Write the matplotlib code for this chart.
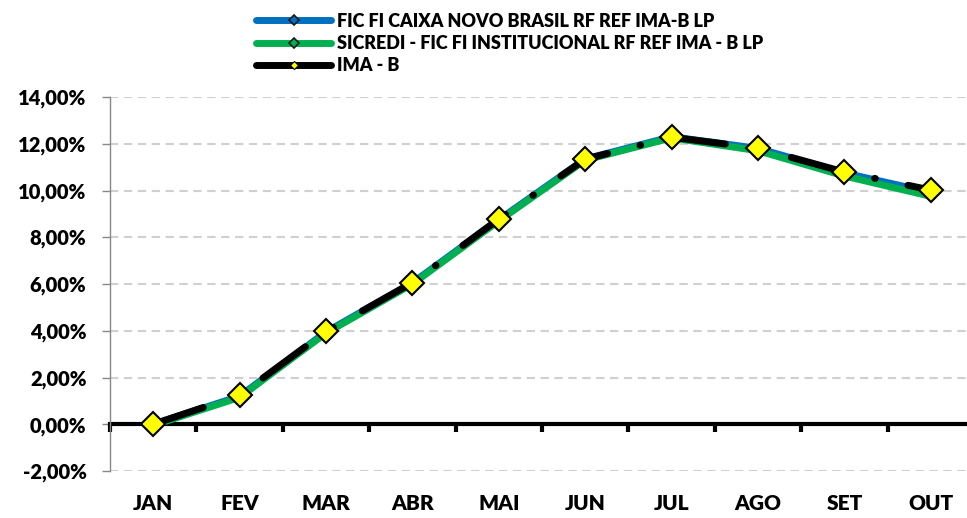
import numpy as np
import matplotlib.pyplot as plt
from matplotlib.lines import Line2D
from matplotlib.ticker import FixedLocator, FuncFormatter

meses = ['JAN', 'FEV', 'MAR', 'ABR', 'MAI', 'JUN', 'JUL', 'AGO', 'SET', 'OUT']
caixa = [0.00, 1.20, 3.95, 6.05, 8.75, 11.35, 12.30, 11.80, 10.75, 9.92]
sicredi = [-0.05, 1.15, 3.90, 6.00, 8.70, 11.30, 12.25, 11.70, 10.62, 9.75]
ima_b = [0.00, 1.24, 3.97, 6.06, 8.78, 11.34, 12.28, 11.81, 10.79, 10.02]

nomes = ['FIC FI CAIXA NOVO BRASIL RF REF IMA-B LP',
         'SICREDI - FIC FI INSTITUCIONAL RF REF IMA - B LP',
         'IMA - B']

AZUL = '#0070C0'
VERDE = '#00B050'
AMARELO = '#FFFF00'

plt.rcParams['font.family'] = ['Lato', 'DejaVu Sans']
plt.rcParams['font.weight'] = 'heavy'
plt.rcParams['lines.scale_dashes'] = False

fig = plt.figure(figsize=(9.67, 5.18), dpi=100)
ax = fig.add_axes([110 / 967, 47 / 518, 864 / 967, 374 / 518])

x = np.arange(len(meses))

ax.plot(x, caixa, color=AZUL, lw=5, solid_capstyle='round', marker='D',
        ms=5, mfc=AZUL, mec='#1a1a1a', mew=1, zorder=3)
ax.plot(x, sicredi, color=VERDE, lw=5, solid_capstyle='round', marker='D',
        ms=5, mfc=VERDE, mec='#1a1a1a', mew=1, zorder=4)
ax.plot(x, ima_b, color='black', lw=5, dashes=(38, 24, 0.5, 24),
        dash_capstyle='round', zorder=5)
ax.plot(x, ima_b, ls='none', marker='D', ms=12.5, mfc=AMARELO, mec='black',
        mew=1.5, zorder=6)

ax.set_xlim(-0.5, len(meses) - 0.5)
ax.set_ylim(-2, 14)

# eixo y
ax.yaxis.set_major_locator(FixedLocator(np.arange(-2, 15, 2)))
ax.yaxis.set_major_formatter(FuncFormatter(lambda v, p: f'{v:.2f}%'.replace('.', ',')))
ax.tick_params(axis='y', length=6, width=1, color='#888888', pad=11,
               labelsize=14.5)
ax.grid(axis='y', color='#d0d0d0', ls=(0, (6, 4)), lw=1.5)
ax.set_axisbelow(True)

# eixo x no zero, rótulos embaixo
ax.spines['bottom'].set_position(('data', 0))
ax.spines['bottom'].set_linewidth(3)
ax.spines['bottom'].set_zorder(2)
ax.spines['left'].set_color('#888888')
ax.spines['left'].set_linewidth(1)
ax.spines['top'].set_visible(False)
ax.spines['right'].set_visible(False)

ax.xaxis.set_major_locator(FixedLocator(np.arange(-0.5, len(meses), 1)))
ax.xaxis.set_major_formatter(FuncFormatter(lambda v, p: ''))
ax.xaxis.set_minor_locator(FixedLocator(x))
ax.set_xticklabels(meses, minor=True)
ax.tick_params(axis='x', which='major', length=6, width=3, color='black')
ax.tick_params(axis='x', which='minor', length=0, pad=50, labelsize=15)

handles = [
    Line2D([], [], color=AZUL, lw=5, solid_capstyle='round', marker='D',
           ms=5, mfc=AZUL, mec='#1a1a1a', mew=1.2),
    Line2D([], [], color=VERDE, lw=5, solid_capstyle='round', marker='D',
           ms=5, mfc=VERDE, mec='#1a1a1a', mew=1.2),
    Line2D([], [], color='black', lw=5, solid_capstyle='round', marker='D',
           ms=4, mfc=AMARELO, mec='black', mew=0.8),
]
fig.legend(handles, nomes, loc='upper left', bbox_to_anchor=(243 / 967, 1.0),
           frameon=False, fontsize=13, handlelength=4.2, handletextpad=0.3,
           labelspacing=0.3, borderaxespad=0.3)

fig.savefig('out.png', dpi=100)
